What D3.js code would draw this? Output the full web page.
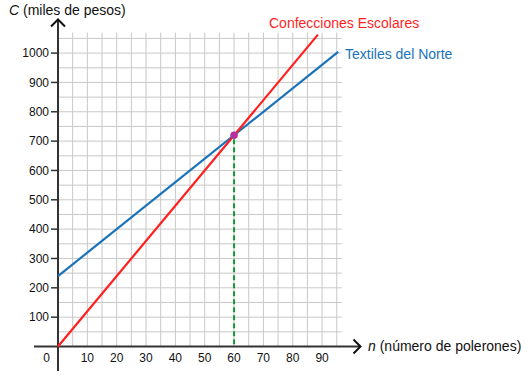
<!DOCTYPE html>
<html>
<head>
<meta charset="utf-8">
<script src="https://cdn.jsdelivr.net/npm/d3@7"></script>
<style>
  body { margin: 0; background: #fff; }
  text { font-family: "Liberation Sans", Arial, sans-serif; }
</style>
</head>
<body>
<div id="chart"></div>
<script>
// data
var nTicks = [10, 20, 30, 40, 50, 60, 70, 80, 90];
var cTicks = [100, 200, 300, 400, 500, 600, 700, 800, 900, 1000];

// Confecciones Escolares: C = 12n
var redN = [0, 88.6];
var redC = [0, 1063];
// Textiles del Norte: C = 240 + 8n
var blueN = [0, 95.5];
var blueC = [240, 1004];

var meetN = 60;
var meetC = 720;

var gridStepN = 5;
var gridStepC = 50;
var gridMaxN = 96.7;
var gridMaxC = 1070;

// set parameters for SVG
var svgWidth = 530;
var svgHeight = 379;
var origin = { x: 58, y: 346.5 };
var unit = 293.4;

var svg = d3.select("#chart")
  .append("svg")
  .attr("width", svgWidth)
  .attr("height", svgHeight);

var xScale = d3.scaleLinear()
  .domain([0, 100])
  .range([origin.x, origin.x + unit]);

var yScale = d3.scaleLinear()
  .domain([0, 1000])
  .range([origin.y, origin.y - unit]);

// grid
var gridN = d3.range(gridStepN, gridMaxN, gridStepN);
var gridC = d3.range(gridStepC, gridMaxC, gridStepC);

var grid = svg.append("g")
  .attr("stroke", "#c8c8c8")
  .attr("stroke-width", 1);

grid.selectAll(".vgrid")
  .data(gridN)
  .enter()
  .append("line")
  .attr("x1", d => xScale(d))
  .attr("x2", d => xScale(d))
  .attr("y1", yScale(0))
  .attr("y2", yScale(gridMaxC));

grid.selectAll(".hgrid")
  .data(gridC)
  .enter()
  .append("line")
  .attr("x1", xScale(0))
  .attr("x2", xScale(gridMaxN))
  .attr("y1", d => yScale(d))
  .attr("y2", d => yScale(d));

// axes
var axisColor = "#333";

svg.append("line")
  .attr("x1", 34).attr("x2", 360)
  .attr("y1", yScale(0)).attr("y2", yScale(0))
  .attr("stroke", axisColor).attr("stroke-width", 2);

svg.append("line")
  .attr("x1", xScale(0)).attr("x2", xScale(0))
  .attr("y1", 371).attr("y2", 20)
  .attr("stroke", axisColor).attr("stroke-width", 2);

// arrow heads
svg.append("path")
  .attr("d", `M${353.5},${yScale(0) - 7} L${360.5},${yScale(0)} L${353.5},${yScale(0) + 7}`)
  .attr("fill", "none").attr("stroke", "#111").attr("stroke-width", 2);

svg.append("path")
  .attr("d", `M${xScale(0) - 7},${26.5} L${xScale(0)},${19.5} L${xScale(0) + 7},${26.5}`)
  .attr("fill", "none").attr("stroke", "#111").attr("stroke-width", 2);

// y ticks
svg.selectAll(".ytick")
  .data(cTicks)
  .enter()
  .append("line")
  .attr("x1", xScale(0) - 7)
  .attr("x2", xScale(0))
  .attr("y1", d => yScale(d))
  .attr("y2", d => yScale(d))
  .attr("stroke", axisColor)
  .attr("stroke-width", 1.5);

svg.selectAll(".ylabel")
  .data(cTicks)
  .enter()
  .append("text")
  .attr("x", xScale(0) - 9)
  .attr("y", d => yScale(d))
  .attr("dy", "0.36em")
  .attr("text-anchor", "end")
  .attr("font-size", "12px")
  .attr("fill", "#111")
  .text(d => d);

svg.selectAll(".xlabel")
  .data(nTicks)
  .enter()
  .append("text")
  .attr("x", d => xScale(d))
  .attr("y", 362)
  .attr("text-anchor", "middle")
  .attr("font-size", "12px")
  .attr("fill", "#111")
  .text(d => d);

svg.append("text")
  .attr("x", 46.7)
  .attr("y", 362)
  .attr("text-anchor", "middle")
  .attr("font-size", "12px")
  .attr("fill", "#111")
  .text("0");

// axis titles
var yTitle = svg.append("text")
  .attr("x", 9)
  .attr("y", 15)
  .attr("font-size", "14px")
  .attr("fill", "#111");
yTitle.append("tspan").attr("font-style", "italic").text("C");
yTitle.append("tspan").text(" (miles de pesos)");

var xTitle = svg.append("text")
  .attr("x", 368)
  .attr("y", 351)
  .attr("font-size", "14px")
  .attr("fill", "#111");
xTitle.append("tspan").attr("font-style", "italic").text("n");
xTitle.append("tspan").text(" (número de polerones)");

// lines
var line = d3.line()
  .x(d => xScale(d[0]))
  .y(d => yScale(d[1]));

var redColor = "#ff1f1f";
var blueColor = "#1a73b9";

svg.append("path")
  .datum(d3.zip(blueN, blueC))
  .attr("d", line)
  .attr("fill", "none")
  .attr("stroke", blueColor)
  .attr("stroke-width", 2.2);

svg.append("path")
  .datum(d3.zip(redN, redC))
  .attr("d", line)
  .attr("fill", "none")
  .attr("stroke", redColor)
  .attr("stroke-width", 2.2);

// dashed drop line
svg.append("line")
  .attr("x1", xScale(meetN)).attr("x2", xScale(meetN))
  .attr("y1", yScale(meetC) + 4).attr("y2", yScale(0))
  .attr("stroke", "#119a3c")
  .attr("stroke-width", 2)
  .attr("stroke-dasharray", "5,3");

svg.append("circle")
  .attr("cx", xScale(meetN))
  .attr("cy", yScale(meetC))
  .attr("r", 3.8)
  .attr("fill", "#b4319f");

// series labels
svg.append("text")
  .attr("x", 269)
  .attr("y", 28)
  .attr("font-size", "14px")
  .attr("fill", redColor)
  .text("Confecciones Escolares");

svg.append("text")
  .attr("x", 345)
  .attr("y", 59)
  .attr("font-size", "14px")
  .attr("fill", blueColor)
  .text("Textiles del Norte");
</script>
</body>
</html>
